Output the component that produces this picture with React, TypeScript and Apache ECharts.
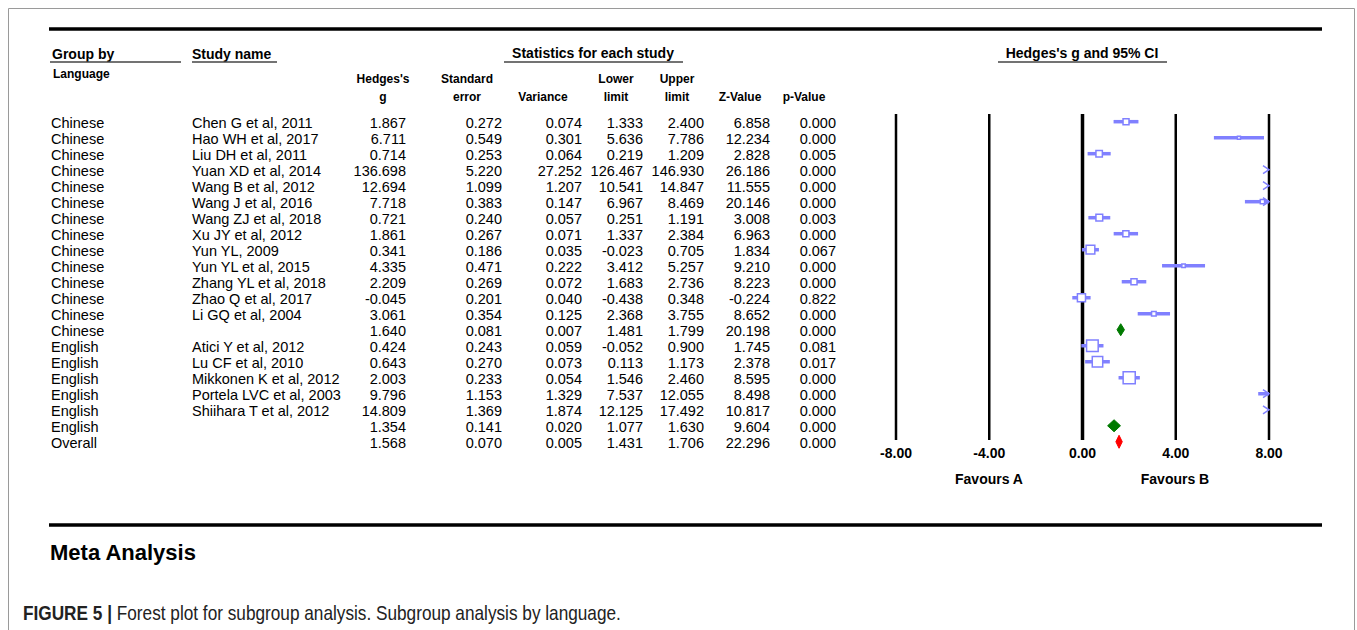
import React, { useEffect, useRef } from "react";
import * as echarts from "echarts";

// ---------- data ----------
const groups = [
  "Chinese", "Chinese", "Chinese", "Chinese", "Chinese", "Chinese", "Chinese",
  "Chinese", "Chinese", "Chinese", "Chinese", "Chinese", "Chinese", "Chinese",
  "English", "English", "English", "English", "English", "English", "Overall",
];
const studyNames = [
  "Chen G et al, 2011", "Hao WH et al, 2017", "Liu DH et al, 2011", "Yuan XD et al, 2014",
  "Wang B et al, 2012", "Wang J et al, 2016", "Wang ZJ et al, 2018", "Xu JY et al, 2012",
  "Yun YL, 2009", "Yun YL et al, 2015", "Zhang YL et al, 2018", "Zhao Q et al, 2017",
  "Li GQ et al, 2004", "", "Atici Y et al, 2012", "Lu CF et al, 2010",
  "Mikkonen K et al, 2012", "Portela LVC et al, 2003", "Shiihara T et al, 2012", "", "",
];
const rowKind = [
  "study", "study", "study", "study", "study", "study", "study", "study", "study", "study",
  "study", "study", "study", "subtotal", "study", "study", "study", "study", "study",
  "subtotal", "overall",
];
const hedgesG = [1.867, 6.711, 0.714, 136.698, 12.694, 7.718, 0.721, 1.861, 0.341, 4.335, 2.209, -0.045, 3.061, 1.64, 0.424, 0.643, 2.003, 9.796, 14.809, 1.354, 1.568];
const stdError = [0.272, 0.549, 0.253, 5.22, 1.099, 0.383, 0.24, 0.267, 0.186, 0.471, 0.269, 0.201, 0.354, 0.081, 0.243, 0.27, 0.233, 1.153, 1.369, 0.141, 0.07];
const variance = [0.074, 0.301, 0.064, 27.252, 1.207, 0.147, 0.057, 0.071, 0.035, 0.222, 0.072, 0.04, 0.125, 0.007, 0.059, 0.073, 0.054, 1.329, 1.874, 0.02, 0.005];
const lowerLimit = [1.333, 5.636, 0.219, 126.467, 10.541, 6.967, 0.251, 1.337, -0.023, 3.412, 1.683, -0.438, 2.368, 1.481, -0.052, 0.113, 1.546, 7.537, 12.125, 1.077, 1.431];
const upperLimit = [2.4, 7.786, 1.209, 146.93, 14.847, 8.469, 1.191, 2.384, 0.705, 5.257, 2.736, 0.348, 3.755, 1.799, 0.9, 1.173, 2.46, 12.055, 17.492, 1.63, 1.706];
const zValue = [6.858, 12.234, 2.828, 26.186, 11.555, 20.146, 3.008, 6.963, 1.834, 9.21, 8.223, -0.224, 8.652, 20.198, 1.745, 2.378, 8.595, 8.498, 10.817, 9.604, 22.296];
const pValue = [0.0, 0.0, 0.005, 0.0, 0.0, 0.0, 0.003, 0.0, 0.067, 0.0, 0.0, 0.822, 0.0, 0.0, 0.081, 0.017, 0.0, 0.0, 0.0, 0.0, 0.0];
const xTicks = [-8, -4, 0, 4, 8];

const headerTop = ["Hedges's", "Standard", "", "Lower", "Upper", "", ""];
const headerBottom = ["g", "error", "Variance", "limit", "limit", "Z-Value", "p-Value"];

// ---------- layout / style ----------
const FONT = "'Liberation Sans', Arial, Helvetica, sans-serif";
const BLUE = "#8080ff";
const GREEN = "#007a00";
const RED = "#ff0000";
const colRight = [406, 502, 582, 643, 704, 770, 836];
const colCenter = [383, 467, 543, 616, 677, 740, 804];
const numCols = [hedgesG, stdError, variance, lowerLimit, upperLimit, zValue, pValue];

function markerSize(i: number) {
  const w = 1 / (stdError[i] * stdError[i]);
  let tot = 0;
  for (let k = 0; k < groups.length; k++) {
    if (rowKind[k] === "study" && groups[k] === groups[i]) tot += 1 / (stdError[k] * stdError[k]);
  }
  return Math.max(3, 20 * Math.sqrt(w / tot));
}

function txt(x: number, y: number, text: string, align: string, size = 14.5, weight = "normal") {
  return {
    type: "text",
    x,
    y,
    silent: true,
    style: {
      text,
      fill: "#000",
      fontSize: size,
      fontWeight: weight,
      fontFamily: FONT,
      textAlign: align,
      textVerticalAlign: "middle",
    },
  };
}

function hline(x1: number, x2: number, y: number, w: number, color = "#000") {
  return {
    type: "line",
    silent: true,
    shape: { x1, y1: y, x2, y2: y },
    style: { stroke: color, lineWidth: w },
  };
}

export default function App() {
  const ref = useRef<HTMLDivElement>(null);

  useEffect(() => {
    const chart = echarts.init(ref.current!, null, { renderer: "svg" });
    const rows = hedgesG.map((g, i) => [0, i]);
    const Y_MIN = -0.48;
    const Y_MAX = 19.89;

    const graphics: any[] = [
      {
        type: "rect",
        silent: true,
        shape: { x: 8.5, y: 8.5, width: 1346, height: 700 },
        style: { fill: "none", stroke: "#9a9a9a", lineWidth: 1 },
      },
      hline(49, 1322, 29, 3.5),
      hline(49, 1322, 525, 3.5),
      txt(52, 54, "Group by", "left", 14, "bold"),
      hline(50, 181, 62, 1.5, "#444"),
      txt(192, 54, "Study name", "left", 14, "bold"),
      hline(192, 277, 62, 1.5, "#444"),
      txt(593, 53, "Statistics for each study", "center", 14, "bold"),
      hline(504, 683, 62, 1.5, "#444"),
      txt(1082, 53, "Hedges's g and 95% CI", "center", 14, "bold"),
      hline(998, 1167, 62, 1.5, "#444"),
      txt(53, 74, "Language", "left", 12, "bold"),
      ...headerTop.map((h, k) => txt(colCenter[k], 79, h, "center", 12, "bold")),
      ...headerBottom.map((h, k) => txt(colCenter[k], 97, h, "center", 12, "bold")),
      txt(989, 479, "Favours A", "center", 14, "bold"),
      txt(1175, 479, "Favours B", "center", 14, "bold"),
      txt(50, 552, "Meta Analysis", "left", 22, "bold"),
      {
        type: "text",
        x: 23,
        y: 613,
        scaleX: 0.82,
        silent: true,
        style: {
          text: "{b|FIGURE 5 |} Forest plot for subgroup analysis. Subgroup analysis by language.",
          fill: "#222",
          fontSize: 21,
          fontFamily: FONT,
          textAlign: "left",
          textVerticalAlign: "middle",
          rich: { b: { fontWeight: "bold", fontSize: 21, fontFamily: FONT, fill: "#222" } },
        },
      },
    ];

    const option: any = {
      animation: false,
      backgroundColor: "#fff",
      grid: { left: 896, right: 1357 - 1269, top: 114, height: 326 },
      xAxis: {
        type: "value",
        min: -8,
        max: 8,
        interval: 4,
        axisLine: { show: false },
        axisTick: { show: false },
        splitLine: { show: false },
        axisLabel: {
          margin: 6,
          color: "#000",
          fontSize: 14,
          fontWeight: "bold",
          fontFamily: FONT,
          formatter: (v: number) => v.toFixed(2),
        },
      },
      yAxis: { type: "value", inverse: true, min: Y_MIN, max: Y_MAX, show: false },
      graphic: graphics,
      series: [
        {
          type: "custom",
          name: "vlines",
          silent: true,
          data: xTicks.map((v) => [v, 0]),
          renderItem: (params: any, api: any) => {
            const v = api.value(0);
            const p1 = api.coord([v, Y_MIN]);
            const p2 = api.coord([v, Y_MAX]);
            return {
              type: "line",
              shape: { x1: p1[0], y1: p1[1], x2: p2[0], y2: p2[1] },
              style: { stroke: "#000", lineWidth: v === 0 ? 3.5 : 2.5 },
            };
          },
        },
        {
          type: "custom",
          name: "table",
          silent: true,
          data: rows,
          renderItem: (params: any, api: any) => {
            const i = api.value(1);
            const y = api.coord([0, i])[1] + 1.5;
            const children: any[] = [
              txt(51, y, groups[i], "left"),
              txt(192, y, studyNames[i], "left"),
              ...numCols.map((vals, k) => txt(colRight[k], y, vals[i].toFixed(3), "right")),
            ];
            return { type: "group", children };
          },
        },
        {
          type: "custom",
          name: "forest",
          silent: true,
          data: rows,
          renderItem: (params: any, api: any) => {
            const i = api.value(1);
            const y = api.coord([0, i])[1];
            const X = (v: number) => api.coord([v, i])[0];
            const g = hedgesG[i];
            const lo = lowerLimit[i];
            const hi = upperLimit[i];
            const kind = rowKind[i];
            if (kind !== "study") {
              const c = kind === "overall" ? RED : GREEN;
              const h = kind === "overall" ? 6.5 : 6;
              return {
                type: "polygon",
                shape: { points: [[X(lo), y], [X(g), y - h], [X(hi), y], [X(g), y + h]] },
                style: { fill: c, stroke: c, lineWidth: 1 },
              };
            }
            const children: any[] = [];
            const a = Math.max(lo, -8);
            const b = Math.min(hi, 8);
            if (a < b) {
              children.push({
                type: "line",
                shape: { x1: X(a), y1: y, x2: X(b), y2: y },
                style: { stroke: BLUE, lineWidth: 3.5 },
              });
            }
            if (g >= -8 && g <= 8) {
              const s = markerSize(i);
              children.push({
                type: "rect",
                shape: { x: X(g) - s / 2, y: y - s / 2, width: s, height: s },
                style: { fill: "#fff", stroke: BLUE, lineWidth: 1.5 },
              });
            }
            if (hi > 8) {
              const xe = X(8);
              children.push({
                type: "polyline",
                shape: { points: [[xe - 6, y - 4], [xe, y], [xe - 6, y + 4]] },
                style: { stroke: BLUE, lineWidth: 1.5, fill: null },
              });
            }
            return { type: "group", children };
          },
        },
      ],
    };

    chart.setOption(option);
    return () => chart.dispose();
  }, []);

  return (
    <div
      ref={ref}
      style={{ position: "absolute", left: 0, top: 0, width: 1357, height: 630, background: "#fff" }}
    />
  );
}
